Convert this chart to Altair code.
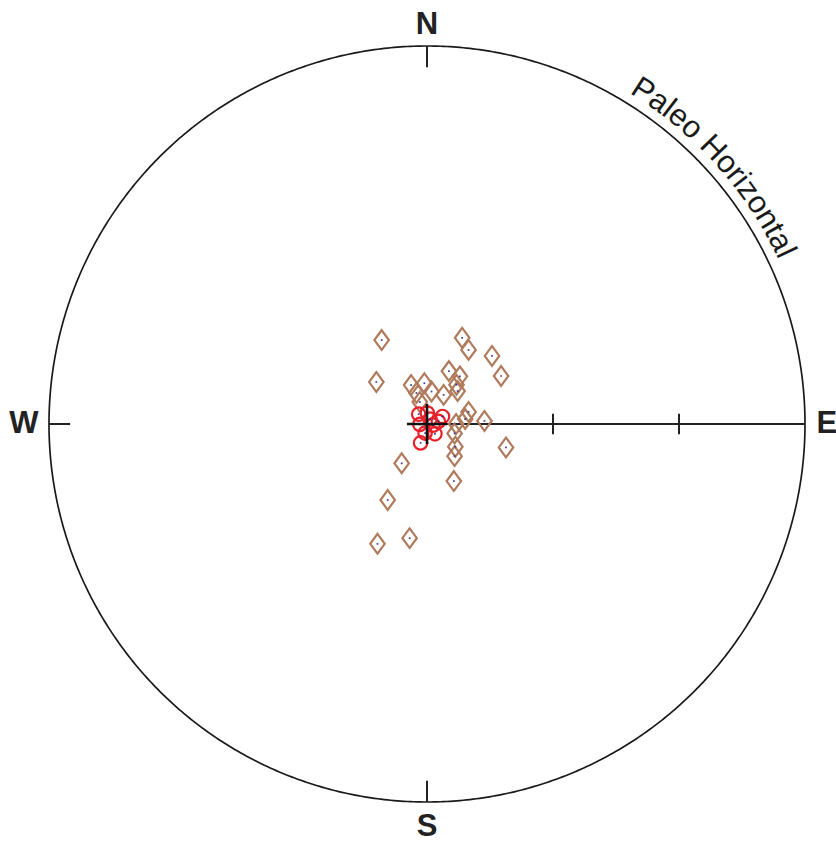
import numpy as np
import pandas as pd
import altair as alt

# Site directions, projected onto the net (unit radius, +x = east, +y = north)
site_x = [-0.120, 0.093, 0.110, 0.172, 0.196, -0.134, -0.042, -0.007, 0.058, 0.087,
          0.078, 0.012, -0.028, 0.044, 0.081, -0.019, 0.110, 0.101, 0.152, 0.077,
          0.073, 0.075, 0.073, 0.209, -0.067, 0.071, -0.104, -0.046, -0.131]
site_y = [0.222, 0.228, 0.196, 0.180, 0.127, 0.111, 0.103, 0.108, 0.140, 0.126,
          0.104, 0.086, 0.082, 0.077, 0.087, 0.058, 0.032, 0.013, 0.008, 0.000,
          -0.025, -0.060, -0.085, -0.062, -0.104, -0.151, -0.201, -0.302, -0.317]

# Tilt-corrected (paleo-horizontal) directions
mean_x = [-0.017, -0.022, 0.001, 0.041, -0.019, 0.016, 0.030, -0.005, 0.021, 0.008]
mean_y = [-0.050, 0.026, 0.029, 0.020, -0.001, -0.003, 0.007, -0.024, -0.026, 0.013]

# Graduations along the east radius
grad_ticks = [1 / 3, 2 / 3]

compass = ["N", "E", "S", "W"]
arc_label = "Paleo Horizontal"

# ---- canvas geometry --------------------------------------------------------
W, H = 836, 842
CX, CY, R = 427, 424, 378          # net centre and radius in pixels
x_scale = alt.Scale(domain=[-CX / R, (W - CX) / R], nice=False, zero=False)
y_scale = alt.Scale(domain=[-(H - CY) / R, CY / R], nice=False, zero=False)


def X(field="x"):
    return alt.X(f"{field}:Q", scale=x_scale, axis=None)


def Y(field="y"):
    return alt.Y(f"{field}:Q", scale=y_scale, axis=None)


# primitive circle
t = np.linspace(0, 2 * np.pi, 721)
circle_df = pd.DataFrame({"x": np.cos(t), "y": np.sin(t), "i": np.arange(len(t))})
circle = alt.Chart(circle_df).mark_line(color="#1a1a1a", strokeWidth=1.7).encode(
    x=X(), y=Y(), order="i:Q"
)

# cardinal ticks, east radius and its graduations
tick_len = 0.056
cross = 0.053
gh = 0.027
segs = [
    (0, 1, 0, 1 - tick_len),
    (0, -1, 0, -1 + tick_len),
    (-1, 0, -1 + tick_len, 0),
    (0, 0, 1, 0),
]
for g in grad_ticks:
    segs.append((g, -gh, g, gh))
seg_df = pd.DataFrame(segs, columns=["x", "y", "x2", "y2"])
rules = alt.Chart(seg_df).mark_rule(color="#222222", strokeWidth=2).encode(
    x=X(), y=Y(), x2="x2:Q", y2="y2:Q"
)

# centre cross
cross_df = pd.DataFrame([(-cross, 0, cross, 0), (0, -cross, 0, cross)],
                        columns=["x", "y", "x2", "y2"])
centre_cross = alt.Chart(cross_df).mark_rule(color="#111111", strokeWidth=2.6).encode(
    x=X(), y=Y(), x2="x2:Q", y2="y2:Q"
)

# compass letters
lab_r = 1.058
lab_df = pd.DataFrame({
    "x": [0, lab_r, 0, -lab_r * 1.008],
    "y": [lab_r - 0.002, 0, -lab_r * 1.008, 0],
    "t": compass,
})
letters = alt.Chart(lab_df).mark_text(
    font="Liberation Sans", fontSize=31, fontWeight="bold", color="#222222",
    baseline="middle", align="center"
).encode(x=X(), y=Y(), text="t:N")

# label set along the primitive circle, one glyph at a time
adv = {"P": 667, "a": 556, "l": 222, "e": 556, "o": 556, " ": 278, "H": 722,
       "r": 333, "i": 222, "z": 500, "n": 556, "t": 278}
fs = 31
rb = 388.0            # baseline radius in px
start = np.radians(31.4)
pos = 0.0
rows = []
for ch in arc_label:
    w = adv[ch] / 1000 * fs
    th = start + (pos + w / 2) / rb
    pos += w
    if ch != " ":
        rows.append({"x": rb / R * np.sin(th), "y": rb / R * np.cos(th),
                     "c": ch, "a": float(np.degrees(th))})
arc_df = pd.DataFrame(rows)
arc_text = alt.Chart(arc_df).mark_text(
    font="Liberation Sans", fontSize=fs, color="#1a1a1a",
    baseline="alphabetic", align="center"
).encode(x=X(), y=Y(), text="c:N", angle=alt.Angle("a:Q", scale=None))

# data markers
site_df = pd.DataFrame({"x": site_x, "y": site_y})
mean_df = pd.DataFrame({"x": mean_x, "y": mean_y})

diamonds = alt.Chart(site_df).mark_point(
    shape="M0,-1.36L1,0L0,1.36L-1,0Z", size=210, filled=False,
    stroke="#b07b5c", strokeWidth=2.2, opacity=1
).encode(x=X(), y=Y())

rings = alt.Chart(mean_df).mark_point(
    shape="circle", size=180, filled=False, stroke="#e8202a",
    strokeWidth=2.2, opacity=1
).encode(x=X(), y=Y())

centres = alt.Chart(pd.concat([site_df, mean_df])).mark_point(
    shape="square", size=3, filled=True, color="#2d2d8c", opacity=0.9
).encode(x=X(), y=Y())

chart = alt.layer(
    circle, rules, diamonds, rings, centres, centre_cross, letters, arc_text
).properties(
    width=W, height=H, padding=0, autosize=alt.AutoSizeParams(type="none"),
    background="white"
).configure_view(stroke=None)

chart.save("out.html", embed_options={"renderer": "svg", "actions": False})
